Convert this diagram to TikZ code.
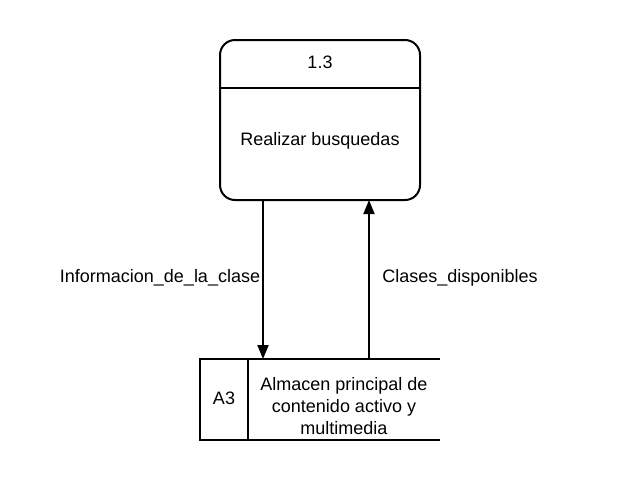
\documentclass[tikz,border=0pt]{standalone}
\usepackage{fontspec}
\setmainfont{Liberation Sans}
\usetikzlibrary{arrows.meta}
\begin{document}
\begin{tikzpicture}
  [x=1pt,y=-1pt,
   process/.style={draw,line width=2pt,rounded corners=15pt,minimum width=200pt,minimum height=160pt,inner sep=0pt,outer sep=0pt},
   storeid/.style={draw,line width=2pt,minimum width=48pt,minimum height=81pt,inner sep=0pt,outer sep=0pt},
   txt/.style={font=\fontsize{18}{22}\selectfont,inner sep=0pt,align=center},
   flow/.style={line width=2pt,arrows={-Triangle[length=14pt,width=11pt]}}]
  \useasboundingbox (0,0) rectangle (620,480);
  \node[process] (proc) at (320,120) {};
  \coordinate (d1) at (220,88);
  \coordinate (d2) at (420,88);
  \draw[line width=2pt] (d1) -- (d2);
  \node[txt] (num) at (320,62) {1.3};
  \node[txt] (name) at (320,141) {Realizar busquedas};

  \node[storeid] (a3) at (224,399.5) {};
  \node[txt] (a3id) at (224,398) {A3};
  \coordinate (s1) at (440,359);
  \coordinate (s2) at (440,440);
  \draw[line width=2pt] (a3.north east) -- (s1);
  \draw[line width=2pt] (a3.south east) -- (s2);
  \node[txt] (store) at (344,406) {Almacen principal de\\contenido activo y\\multimedia};

  \coordinate (c1) at (263,0);
  \coordinate (c2) at (369,0);
  \draw[flow] (c1 |- proc.south) -- (c1 |- a3.north);
  \draw[flow] (c2 |- a3.north) -- (c2 |- proc.south);
  \node[txt] (info) at (160,278) {Informacion\_de\_la\_clase};
  \node[txt] (clases) at (460,278) {Clases\_disponibles};
\end{tikzpicture}
\end{document}
